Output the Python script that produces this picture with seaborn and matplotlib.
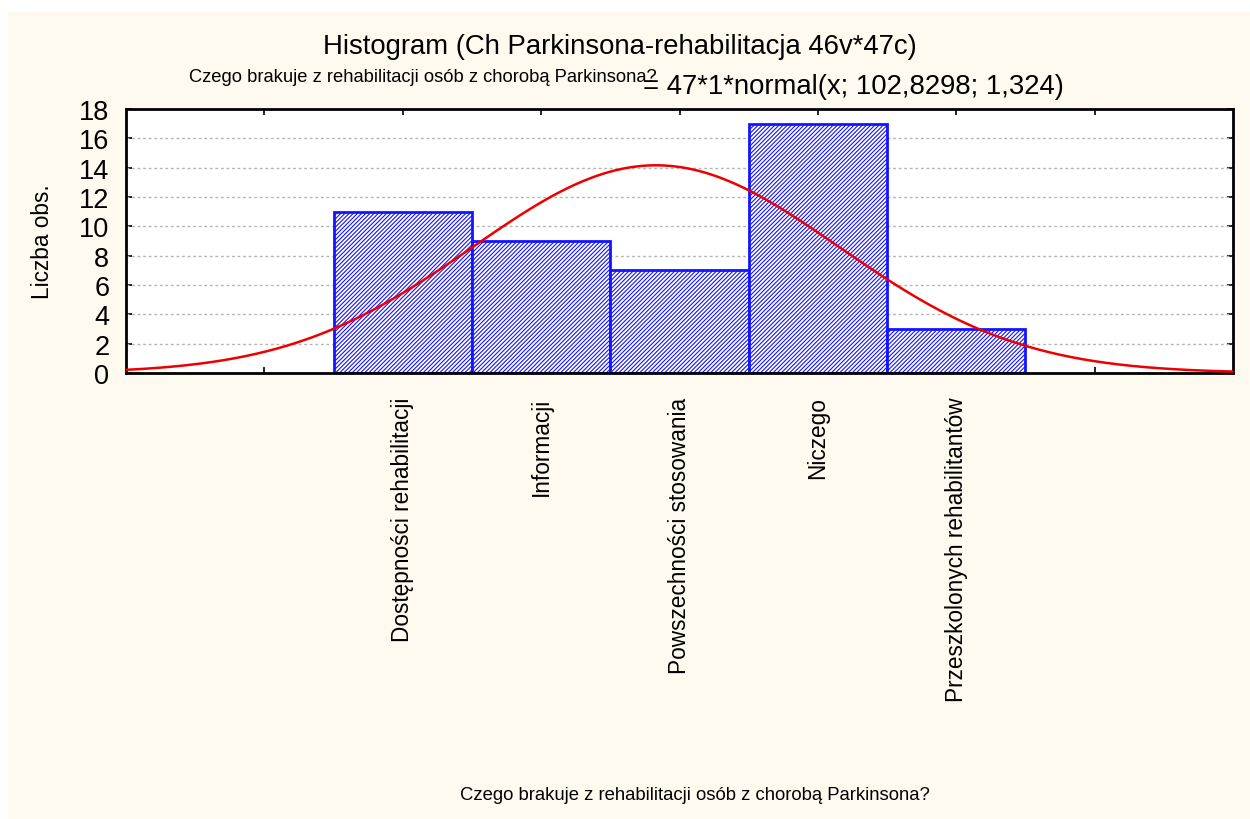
import numpy as np
import pandas as pd
import matplotlib
matplotlib.use("Agg")
import matplotlib.pyplot as plt
import seaborn as sns
from matplotlib.patches import Rectangle

# dane
categories = ["Dostępności rehabilitacji", "Informacji", "Powszechności stosowania",
              "Niczego", "Przeszkolonych rehabilitantów"]
positions = [1, 2, 3, 4, 5]
counts = [11, 9, 7, 17, 3]

# parametry dopasowanego rozkładu normalnego (z opisu wykresu)
n_obs = 47
bin_width = 1
mu = 102.8298
sigma = 1.324
code_offset = 100  # kategoria 1 -> wartość 101

sns.set_style("white")
plt.rcParams["font.family"] = ["Liberation Sans", "DejaVu Sans"]
plt.rcParams["hatch.linewidth"] = 0.8
plt.rcParams["text.color"] = "black"
plt.rcParams["axes.labelcolor"] = "black"
plt.rcParams["xtick.color"] = "black"
plt.rcParams["ytick.color"] = "black"

cream = "#FFFAEF"
fig = plt.figure(figsize=(12.5, 8.2), dpi=100, facecolor="white")
fig.patches.append(Rectangle((8 / 1250, 0), 1 - 8 / 1250, 1 - 13 / 820,
                             transform=fig.transFigure, facecolor=cream,
                             edgecolor="none", zorder=-10))

ax = fig.add_axes([126 / 1250, 1 - 374 / 820, 1107 / 1250, 264 / 820])
ax.set_facecolor("white")

df = pd.DataFrame({"poz": positions, "liczba": counts})
sns.histplot(data=df, x="poz", weights="liczba", discrete=True, ax=ax,
             stat="count", element="bars")
for p in ax.patches:
    p.set_facecolor("white")
    p.set_edgecolor("#1414FF")
    p.set_hatch("////////")
    p.set_linewidth(2)
    p.set_alpha(1)
    p.set_zorder(2)

# krzywa normalna
xs = np.linspace(-1, 7, 400)
ys = n_obs * bin_width * np.exp(-0.5 * ((xs + code_offset - mu) / sigma) ** 2) / (sigma * np.sqrt(2 * np.pi))
sns.lineplot(x=xs, y=ys, color="#EE0000", linewidth=1.8, ax=ax, zorder=3)

ax.set_xlim(-1, 7)
ax.set_ylim(0, 18)
ax.set_yticks(range(0, 19, 2))
ax.set_xticks(range(0, 7))
ax.set_xticklabels([""] + categories + [""], rotation=90, fontsize=16.3)
ax.tick_params(axis="x", direction="in", length=4, width=1.2, pad=17, top=True, bottom=True)
ax.tick_params(axis="y", direction="in", length=4, width=1.2, pad=12, left=True, right=True,
               labelsize=19.5)
for yv in range(2, 18, 2):
    ax.axhline(yv, color="#b5b5b5", linestyle=(0, (2, 2)), linewidth=1, zorder=1)
for s in ax.spines.values():
    s.set_color("black")
    s.set_linewidth(2)
    s.set_visible(True)

ax.set_xlabel("")
ax.set_ylabel("Liczba obs.", fontsize=16.3, labelpad=18)

fig.text(620 / 1250, 1 - 47 / 820, "Histogram (Ch Parkinsona-rehabilitacja 46v*47c)",
         ha="center", va="center", fontsize=19.8)
fig.text(657 / 1250, 1 - 78 / 820, "Czego brakuje z rehabilitacji osób z chorobą Parkinsona?",
         ha="right", va="center", fontsize=13.2)
fig.text(643 / 1250, 1 - 87 / 820, "= 47*1*normal(x; 102,8298; 1,324)",
         ha="left", va="center", fontsize=19.8)
fig.text(695 / 1250, 1 - 796 / 820, "Czego brakuje z rehabilitacji osób z chorobą Parkinsona?",
         ha="center", va="center", fontsize=13.3)

fig.savefig("out.png", dpi=100, facecolor=fig.get_facecolor())
